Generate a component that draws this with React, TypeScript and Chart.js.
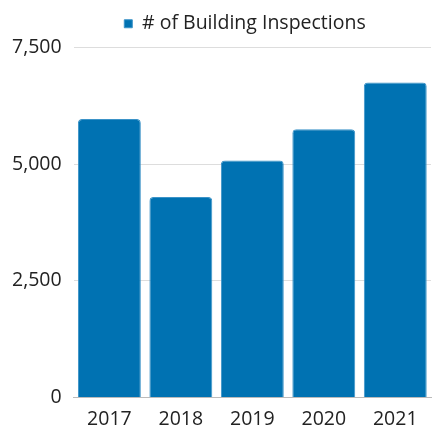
import React, { useEffect, useRef } from "react";
import { Chart, registerables } from "chart.js";

Chart.register(...registerables);

const categories = ["2017", "2018", "2019", "2020", "2021"];
const inspections = [5970, 4300, 5080, 5750, 6750];
const yTicks = [0, 2500, 5000, 7500];

const legendSpacer = {
  id: "legendSpacer",
  beforeInit(chart: any) {
    const orig = chart.legend.fit;
    chart.legend.fit = function () {
      orig.call(this);
      this.height += 4;
    };
  },
  afterLayout(chart: any) {
    const lg = chart.legend;
    lg.left = 56;
    lg.right = 434;
  },
};

export default function App() {
  const ref = useRef<HTMLCanvasElement>(null);
  useEffect(() => {
    document.body.style.margin = "0";
    const ctx = ref.current!;
    const chart = new Chart(ctx, {
      type: "bar",
      data: {
        labels: categories,
        datasets: [
          {
            label: "# of Building Inspections",
            data: inspections,
            backgroundColor: "#0072B2",
            borderColor: "#3b93c8",
            borderWidth: 1,
            borderRadius: { topLeft: 4, topRight: 4, bottomLeft: 0, bottomRight: 0 },
            borderSkipped: "bottom",
            barPercentage: 0.88,
            categoryPercentage: 1,
          },
        ],
      },
      plugins: [legendSpacer],
      options: {
        responsive: false,
        animation: false,
        layout: { padding: { left: 0, right: 3, top: 2, bottom: 0 } },
        plugins: {
          legend: {
            labels: {
              font: { family: "Open Sans", size: 19.5 },
              color: "#222",
              boxWidth: 8,
              boxHeight: 8,
              padding: 12,
            },
          },
          tooltip: { enabled: false },
        },
        scales: {
          x: {
            grid: { display: false },
            border: { color: "#bbb" },
            ticks: { font: { family: "Open Sans", size: 19.5 }, color: "#222", padding: 2 },
          },
          y: {
            min: 0,
            max: 7500,
            afterBuildTicks: (axis: any) => {
              axis.ticks = yTicks.map((v) => ({ value: v }));
            },
            grid: { color: "#ddd", drawTicks: false },
            border: { display: false },
            ticks: {
              font: { family: "Open Sans", size: 19.5 },
              color: "#222",
              padding: 12,
              callback: (v: any) => Number(v).toLocaleString("en-US"),
            },
          },
        },
      },
    });
    return () => chart.destroy();
  }, []);
  return <canvas ref={ref} width={434} height={433} />;
}
